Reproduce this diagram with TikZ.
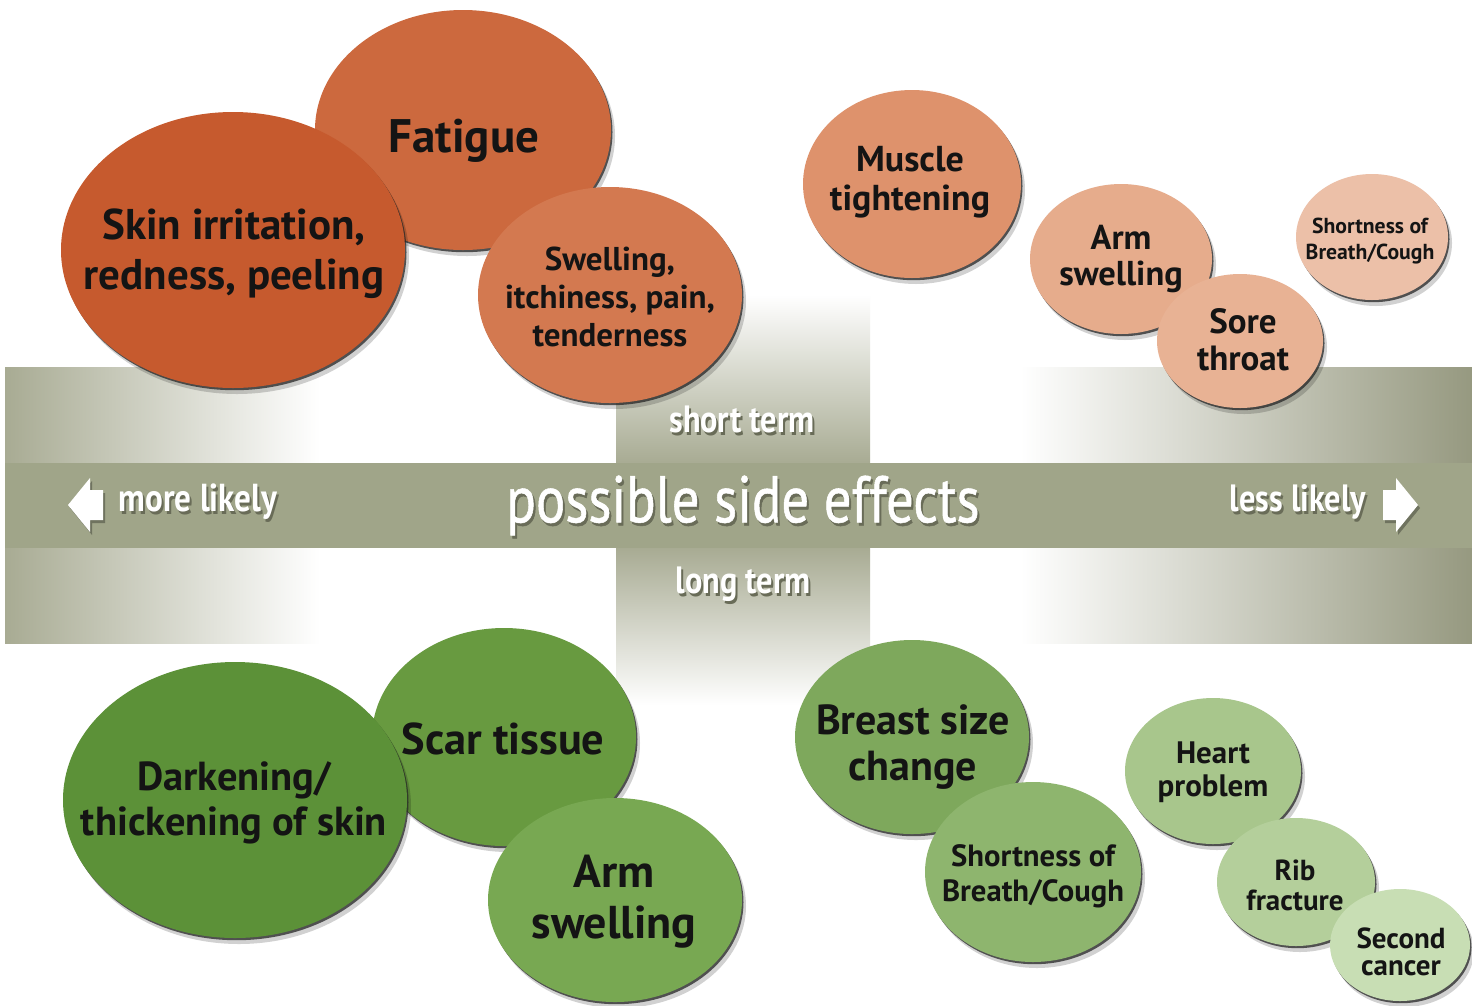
\documentclass[tikz,border=0pt]{standalone}
\usepackage{fontspec}
\setmainfont{PT Sans}
\newfontfamily\bubfont{PT Sans}
\newfontfamily\condfont{PT Sans}[FakeStretch=0.85]
\newfontfamily\titlefont{PT Sans}[FakeStretch=0.83,FakeBold=0.8]
\usetikzlibrary{shapes.geometric,shadows}
\definecolor{bandgray}{RGB}{168,171,147}
\definecolor{banddark}{RGB}{150,153,128}
\definecolor{stripc}{RGB}{160,165,137}
\definecolor{txtshadow}{RGB}{105,108,88}
\definecolor{cSkin}{RGB}{198,90,46}
\definecolor{cFat}{RGB}{204,105,62}
\definecolor{cSwell}{RGB}{211,121,80}
\definecolor{cMus}{RGB}{222,146,108}
\definecolor{cArmT}{RGB}{230,172,140}
\definecolor{cSore}{RGB}{232,178,148}
\definecolor{cShT}{RGB}{236,192,168}
\definecolor{cDark}{RGB}{92,145,56}
\definecolor{cScar}{RGB}{104,154,64}
\definecolor{cArmB}{RGB}{120,168,82}
\definecolor{cBreast}{RGB}{126,168,92}
\definecolor{cShB}{RGB}{142,181,110}
\definecolor{cHeart}{RGB}{168,198,140}
\definecolor{cRib}{RGB}{180,207,155}
\definecolor{cSec}{RGB}{200,222,180}
\newcommand\shtxt[1]{\makebox[0pt][l]{\hspace{2pt}\raisebox{-3pt}{\color{txtshadow}#1}}#1}
\tikzset{
  bub/.style={ellipse, inner sep=0pt, draw=none,
    drop shadow={shadow xshift=4pt, shadow yshift=-6pt, opacity=0.18, fill=black},
    drop shadow={shadow xshift=1.5pt, shadow yshift=-2.2pt, opacity=0.75, fill=black!85}},
  lbl/.style={align=center, inner sep=0pt, text=black!92, font=\bubfont\bfseries},
  bandtxt/.style={inner sep=0pt, text=white},
  smalltxt/.style={bandtxt, font=\condfont\bfseries\fontsize{38}{42}\selectfont}
}
\begin{document}
\begin{tikzpicture}[x=1pt,y=-1pt]
\useasboundingbox (0,0) rectangle (1472,1005);
\fill[white] (0,0) rectangle (1472,1005);
% horizontal band
\shade[left color=bandgray, right color=white] (5,367) rectangle (320,643);
\shade[left color=white, right color=banddark] (1020,367) rectangle (1472,643);
% vertical band
\shade[top color=white, bottom color=bandgray] (616,295) rectangle (870,463);
\shade[top color=bandgray, bottom color=white] (616,548) rectangle (870,705);
% strip
\fill[stripc] (5,463) rectangle (1472,548);

% band texts
\node[bandtxt, font=\titlefont\fontsize{66}{70}\selectfont] (title) at (743,507) {\shtxt{possible side effects}};
\node[smalltxt] (short) at (742,421) {\shtxt{short term}};
\node[smalltxt] (long) at (743,586) {\shtxt{long term}};
\node[smalltxt, font=\condfont\bfseries\fontsize{39}{42}\selectfont] (more) at (198,503) {\shtxt{more likely}};
\node[smalltxt] (less) at (1298,503) {\shtxt{less likely}};
% arrows
\fill[black, opacity=0.3] (70,508) -- (92,481) -- (92,493) -- (105,493) -- (105,523) -- (92,523) -- (92,535) -- cycle;
\fill[white] (68,505) -- (90,478) -- (90,490) -- (103,490) -- (103,520) -- (90,520) -- (90,532) -- cycle;
\fill[black, opacity=0.3] (1420,508) -- (1398,481) -- (1398,493) -- (1385,493) -- (1385,523) -- (1398,523) -- (1398,535) -- cycle;
\fill[white] (1418,505) -- (1396,478) -- (1396,490) -- (1383,490) -- (1383,520) -- (1396,520) -- (1396,532) -- cycle;

% top-left cluster
\node[bub, fill=cFat, minimum width=296pt, minimum height=240pt] (fat) at (463,130) {};
\node[bub, fill=cSkin, minimum width=344pt, minimum height=276pt] (skin) at (233,250) {};
\node[bub, fill=cSwell, minimum width=264pt, minimum height=216pt] (swell) at (610,295) {};
\node[lbl, font=\bubfont\bfseries\fontsize{47}{50}\selectfont] (fatT) at (464,141) {Fatigue};
\node[lbl, font=\bubfont\bfseries\fontsize{43}{50}\selectfont] (skinT) at (234,254) {Skin irritation,\\redness, peeling};
\node[lbl, font=\bubfont\bfseries\fontsize{33}{38}\selectfont] (swellT) at (610,297) {Swelling,\\itchiness, pain,\\tenderness};

% top-right cluster
\node[bub, fill=cMus, minimum width=218pt, minimum height=188pt] (mus) at (912,184) {};
\node[bub, fill=cArmT, minimum width=182pt, minimum height=150pt] (armt) at (1121,259) {};
\node[bub, fill=cSore, minimum width=166pt, minimum height=134pt] (sore) at (1240,341) {};
\node[bub, fill=cShT, minimum width=152pt, minimum height=126pt] (sht) at (1372,237) {};
\node[lbl, font=\bubfont\bfseries\fontsize{36}{39}\selectfont] (musT) at (910,182) {Muscle\\tightening};
\node[lbl, font=\bubfont\bfseries\fontsize{34.5}{36}\selectfont] (armtT) at (1121,259) {Arm\\swelling};
\node[lbl, font=\bubfont\bfseries\fontsize{35}{37}\selectfont] (soreT) at (1243,340) {Sore\\throat};
\node[lbl, font=\bubfont\bfseries\fontsize{21.7}{26}\selectfont] (shtT) at (1370,241) {Shortness of\\Breath/Cough};

% bottom-left cluster
\node[bub, fill=cScar, minimum width=264pt, minimum height=218pt] (scar) at (504,737) {};
\node[bub, fill=cDark, minimum width=344pt, minimum height=276pt] (dark) at (235,800) {};
\node[bub, fill=cArmB, minimum width=254pt, minimum height=204pt] (armb) at (615,900) {};
\node[lbl, font=\bubfont\bfseries\fontsize{44.4}{50}\selectfont] (scarT) at (503,739) {Scar tissue};
\node[lbl, font=\bubfont\bfseries\fontsize{40.5}{45}\selectfont] (darkT) at (234,803) {Darkening/\\thickening of skin};
\node[lbl, font=\bubfont\bfseries\fontsize{46}{51}\selectfont] (armbT) at (614,902) {Arm\\swelling};

% bottom-right cluster
\node[bub, fill=cBreast, minimum width=234pt, minimum height=194pt] (breast) at (912,737) {};
\node[bub, fill=cShB, minimum width=216pt, minimum height=180pt] (shb) at (1033,872) {};
\node[bub, fill=cHeart, minimum width=176pt, minimum height=146pt] (heart) at (1213,771) {};
\node[bub, fill=cRib, minimum width=158pt, minimum height=128pt] (rib) at (1296,882) {};
\node[bub, fill=cSec, minimum width=140pt, minimum height=112pt] (sec) at (1400,945) {};
\node[lbl, font=\bubfont\bfseries\fontsize{42}{46}\selectfont] (breastT) at (913,747) {Breast size\\change};
\node[lbl, font=\bubfont\bfseries\fontsize{30.7}{35}\selectfont] (shbT) at (1033,876) {Shortness of\\Breath/Cough};
\node[lbl, font=\bubfont\bfseries\fontsize{31}{33}\selectfont] (heartT) at (1213,772) {Heart\\problem};
\node[lbl, font=\bubfont\bfseries\fontsize{29}{30}\selectfont] (ribT) at (1295,885) {Rib\\fracture};
\node[lbl, font=\bubfont\bfseries\fontsize{29}{27}\selectfont] (secT) at (1401,952) {Second\\cancer};
\end{tikzpicture}
\end{document}
